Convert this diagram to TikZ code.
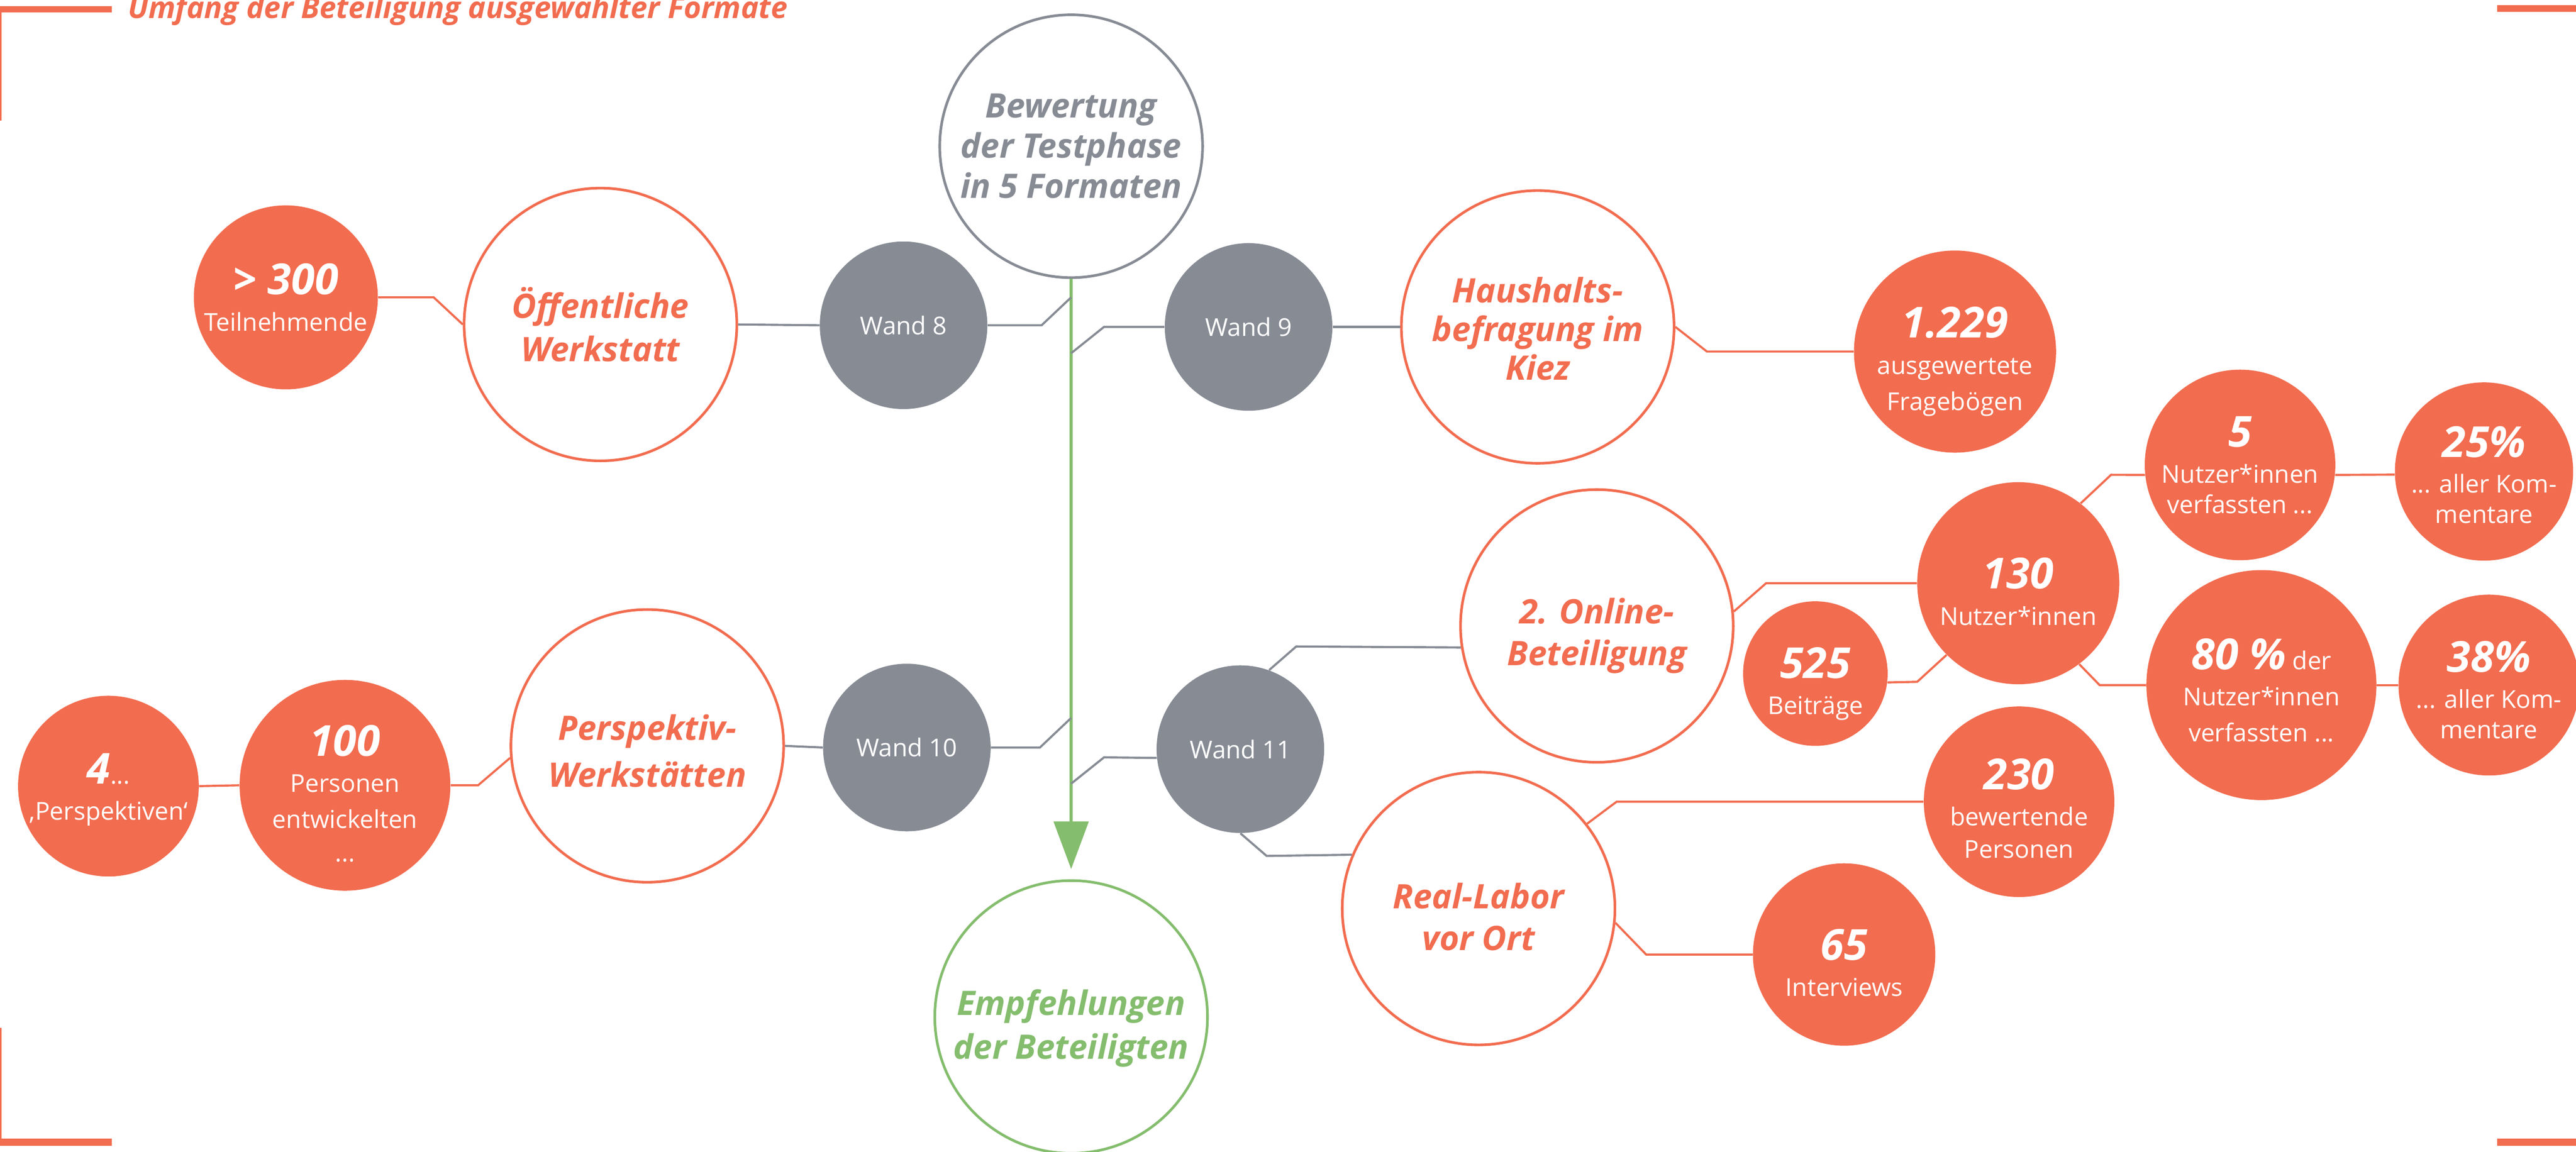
\documentclass[tikz,border=0pt]{standalone}
\usepackage{fontspec}
\setmainfont{Open Sans}
\usetikzlibrary{arrows.meta}
\definecolor{org}{RGB}{242,108,79}
\definecolor{gry}{RGB}{134,139,148}
\definecolor{grn}{RGB}{132,189,109}
\newcommand{\myBig}{\fontsize{20.5}{25.5}\selectfont\bfseries\itshape}
\newcommand{\myNum}{\fontsize{26}{28}\selectfont\bfseries\itshape}
\newcommand{\mySub}{\fontsize{15}{20.5}\selectfont}
\newcommand{\myWand}{\fontsize{15}{18}\selectfont}
\newcommand{\myTitle}{\fontsize{18.2}{20}\selectfont\bfseries\itshape}
\newcommand{\dn}[1]{\rule{0pt}{#1pt}}
\begin{document}
\begin{tikzpicture}[x=1pt,y=-1pt,
  ring/.style={circle,draw=org,line width=1.6pt,fill=white,inner sep=0pt,minimum size=#1,align=center,text=org,font=\myBig},
  dot/.style={circle,fill=org,inner sep=0pt,minimum size=#1,align=center,text=white,font=\mySub},
  wall/.style={circle,fill=gry,inner sep=0pt,minimum size=#1,text=white,font=\myWand},
  oline/.style={draw=org,line width=1.3pt},
  gline/.style={draw=gry,line width=1.3pt},
  flow/.style={draw=grn,line width=2pt,-{Triangle[length=29pt,width=21pt]}},
  bar/.style={fill=org}
]
\useasboundingbox (0,0) rectangle (1568,701);
\clip (0,0) rectangle (1568,701);

% corner marks
\fill[bar] (0,3.8) rectangle (68,7.6);
\fill[bar] (0,7.6) rectangle (1,73.5);
\fill[bar] (1520,3.2) rectangle (1568,7.3);
\fill[bar] (0,693) rectangle (68,697.5);
\fill[bar] (0,625.5) rectangle (1,693);
\fill[bar] (1520,693) rectangle (1568,697.5);

% title
\node[anchor=base west,inner sep=0pt,text=org,font=\myTitle] (title) at (77.6,11.2) {Umfang der Beteiligung ausgewählter Formate};

% junction points on the green flow line
\coordinate (j1) at (652,181);
\coordinate (j2) at (652,215);
\coordinate (j3) at (652,437);
\coordinate (j4) at (652,477);
\coordinate (tip) at (652,529);

% central nodes
\node[ring=160pt,draw=gry,text=gry] (T) at (652,89) {Bewertung\\[-1pt]der Testphase\\[-1pt]in 5 Formaten};
\node[ring=166pt,draw=grn,text=grn] (E) at (652,619) {\dn{29.6}Empfehlungen\\[1pt]der Beteiligten};

% walls
\node[wall=102pt] (W8) at (550,198) {Wand 8};
\node[wall=102pt] (W9) at (760,199) {Wand 9};
\node[wall=102pt] (W10) at (552,455) {Wand 10};
\node[wall=102pt] (W11) at (755,456) {Wand 11};

% formats
\node[ring=166pt] (OW) at (365.5,197.5) {Öffentliche\\[1pt]Werkstatt};
\node[ring=166pt] (HH) at (936,199) {\dn{17.6}Haushalts-\\[-2pt]befragung im\\[-2pt]Kiez};
\node[ring=166pt] (ON) at (972,381) {\dn{27.6}2. Online-\\Beteiligung};
\node[ring=166pt] (RL) at (900,553) {\dn{25.6}Real-Labor\\vor Ort};
\node[ring=166pt] (PW) at (394,454) {\dn{21.6}Perspektiv-\\[3pt]Werkstätten};

% figures
\node[dot=112pt] (P300) at (174,181) {{\myNum > 300}\\[1.5pt]Teilnehmende};
\node[dot=116pt] (N1229) at (1190,214) {\dn{31}{\myNum 1.229}\\[1.5pt]ausgewertete\\[1.5pt]Fragebögen};
\node[dot=88pt] (N525) at (1105,410) {\dn{31}{\myNum 525}\\[1.5pt]Beiträge};
\node[dot=123pt] (N130) at (1228.5,355) {\dn{29}{\myNum 130}\\[1.5pt]Nutzer*innen};
\node[dot=116pt] (N5) at (1363.5,283) {{\myNum 5}\\[1.5pt]Nutzer*innen\\[-2pt]verfassten ...};
\node[dot=100pt] (P25) at (1512,287) {\dn{23}{\myNum 25\%}\\[1pt]... aller Kom-\\[-2pt]mentare};
\node[dot=140pt] (P80) at (1376.5,417) {\dn{25}{\myNum 80 \%} der\\[1.5pt]Nutzer*innen\\[1.5pt]verfassten ...};
\node[dot=104pt] (P38) at (1515,417) {\dn{25}{\myNum 38\%}\\[1.5pt]... aller Kom-\\[-2pt]mentare};
\node[dot=116pt] (N230) at (1229,488) {\dn{27}{\myNum 230}\\[1.5pt]bewertende\\[-1pt]Personen};
\node[dot=111pt] (N65) at (1122.5,581) {\dn{29}{\myNum 65}\\[1.5pt]Interviews};
\node[dot=110pt] (N4) at (66,478.5) {\dn{23}{\myNum 4}...\\[1.5pt]‚Perspektiven‘};
\node[dot=114pt] (N100) at (210,478) {\dn{29}{\myNum 100}\\[1.5pt]Personen\\[1.5pt]entwickelten\\...};

% flow line
\draw[flow] (T.south) -- (tip);

% connectors
\draw[oline] (P300.east) -- (264,181) -- (OW.west);
\draw[gline] (OW.east) -- (W8.west);
\draw[gline] (W8.east) -- (634,198) -- (j1);
\draw[gline] (W9.west) -- (672,199) -- (j2);
\draw[gline] (W9.east) -- (HH.west);
\draw[oline] (HH.east) -- (1039,214) -- (N1229.west);
\draw[oline] (N4.east) -- (N100.west);
\draw[oline] (N100.east) -- (291,478) -- (PW.185);
\draw[gline] (PW.east) -- (W10.west);
\draw[gline] (W10.east) -- (633,455) -- (j3);
\draw[gline] (W11.186) -- (672,461) -- (j4);
\draw[gline] (W11.70) -- (789,393.5) -- (ON.189);
\draw[gline] (W11.south) -- (771,521) -- (RL.157);
\draw[oline] (ON.6) -- (1075,355) -- (N130.west);
\draw[oline] (N130.225) -- (1167,415) -- (N525.353);
\draw[oline] (N130.52) -- (1285,289) -- (N5.186);
\draw[oline] (N5.-6) -- (P25.182);
\draw[oline] (N130.-53) -- (1278,417) -- (P80.west);
\draw[oline] (P80.east) -- (P38.west);
\draw[oline] (RL.38) -- (984,488) -- (N230.west);
\draw[oline] (RL.-6) -- (1002,581) -- (N65.west);
\end{tikzpicture}
\end{document}
